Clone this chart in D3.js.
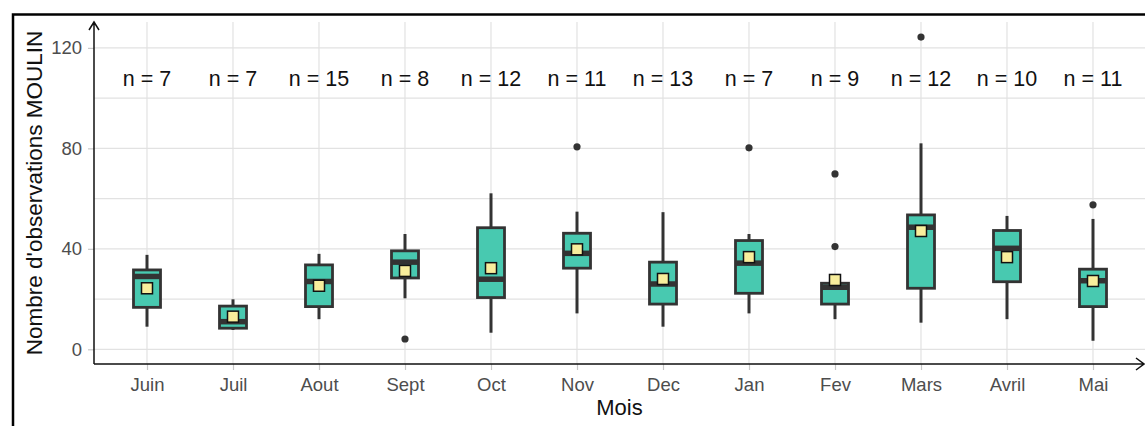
<!DOCTYPE html>
<html lang="fr">

<head>
    <meta charset="utf-8">
    <title>Nombre d'observations MOULIN par mois</title>
    <script type="text/javascript" src="https://cdn.jsdelivr.net/npm/d3@7"></script>
    <style type="text/css">
    body {
        margin: 0;
        background: white;
        font-family: "Liberation Sans", Arial, sans-serif;
    }

    .grid line {
        stroke: #e2e2e2;
        stroke-width: 1.2;
    }

    .tick text {
        fill: #4d4d4d;
        font-size: 18.5px;
        font-family: "Liberation Sans", Arial, sans-serif;
    }

    .tick line {
        stroke: #c8c8c8;
        stroke-width: 1.2;
    }
    </style>
</head>

<body>
    <script type="text/javascript">
    //data
    var months = ['Juin', 'Juil', 'Aout', 'Sept', 'Oct', 'Nov', 'Dec', 'Jan', 'Fev', 'Mars', 'Avril', 'Mai'];
    var nObs = [7, 7, 15, 8, 12, 11, 13, 7, 9, 12, 10, 11];
    var lowWhisker = [9, 7.7, 12, 20.3, 6.6, 14.3, 9, 14.3, 12, 10.6, 12, 3.4];
    var q1 = [16.7, 8.4, 17, 28.4, 20.6, 32.3, 18, 22.3, 18, 24.3, 26.9, 17];
    var medians = [29, 11, 27, 34.7, 27.9, 38.2, 26, 34.3, 24.7, 48.6, 40.2, 27.3];
    var q3 = [31.6, 17.2, 33.6, 39.2, 48.4, 46.2, 34.7, 43.3, 26.3, 53.5, 47.3, 31.9];
    var highWhisker = [37.6, 19.9, 38, 45.9, 62.1, 54.8, 54.6, 45.9, 26.3, 82, 53.1, 51.9];
    var means = [24.3, 13, 25.3, 31.2, 32.3, 39.8, 28, 36.7, 27.6, 47.1, 36.7, 27.2];
    var outliers = [[], [], [], [4.1], [], [80.6], [], [80.2], [69.8, 40.9], [124.3], [], [57.5]];
    var yTicks = [0, 40, 80, 120];
    var yMinor = [20, 60, 100];
    var nLabelY = 108;

    //Width and height
    var w = 1145;
    var h = 426;

    //panel edges
    var panelLeft = 94;
    var panelRight = 1145;
    var panelTop = 22;
    var panelBottom = 364;

    var boxHalf = 13.5;
    var boxFill = '#48c9b0';
    var dark = '#333333';

    var svg = d3.select('body')
        .append('svg')
        .attr('width', w)
        .attr('height', h);

    //scales
    var x = d3.scalePoint()
        .domain(months)
        .range([147, 1093]);

    var y = d3.scaleLinear()
        .domain([-5.85, 130.3])
        .range([panelBottom, panelTop]);

    //outer frame
    svg.append('rect')
        .attr('x', 13)
        .attr('y', 14.5)
        .attr('width', w)
        .attr('height', h)
        .attr('fill', 'none')
        .attr('stroke', 'black')
        .attr('stroke-width', 2.5);

    //grid
    var grid = svg.append('g').attr('class', 'grid');

    grid.selectAll('.hgrid')
        .data(yTicks.concat(yMinor))
        .enter()
        .append('line')
        .attr('x1', panelLeft)
        .attr('x2', panelRight)
        .attr('y1', function(d) { return y(d); })
        .attr('y2', function(d) { return y(d); });

    grid.selectAll('.vgrid')
        .data(months)
        .enter()
        .append('line')
        .attr('x1', function(d) { return x(d); })
        .attr('x2', function(d) { return x(d); })
        .attr('y1', panelTop)
        .attr('y2', panelBottom);

    //axes
    var xAxis = svg.append('g')
        .attr('transform', 'translate(0,' + panelBottom + ')')
        .call(d3.axisBottom(x).tickSize(6).tickPadding(8));
    xAxis.select('.domain').remove();

    var yAxis = svg.append('g')
        .attr('transform', 'translate(' + panelLeft + ',0)')
        .call(d3.axisLeft(y).tickValues(yTicks).tickSize(6).tickPadding(6));
    yAxis.select('.domain').remove();

    //axis lines with open arrow heads
    svg.append('path')
        .attr('d', 'M' + panelLeft + ',' + panelBottom + 'V' + panelTop +
            'M' + (panelLeft - 5) + ',' + (panelTop + 8) + 'L' + panelLeft + ',' + panelTop + 'L' + (panelLeft + 5) + ',' + (panelTop + 8))
        .attr('fill', 'none')
        .attr('stroke', '#111')
        .attr('stroke-width', 1.5);

    svg.append('path')
        .attr('d', 'M' + panelLeft + ',' + panelBottom + 'H' + (panelRight - 1) +
            'M' + (panelRight - 9) + ',' + (panelBottom - 6) + 'L' + (panelRight - 1) + ',' + panelBottom + 'L' + (panelRight - 9) + ',' + (panelBottom + 6))
        .attr('fill', 'none')
        .attr('stroke', '#111')
        .attr('stroke-width', 1.5);

    //boxes
    var boxes = svg.selectAll('.box')
        .data(months)
        .enter()
        .append('g')
        .attr('class', 'box');

    boxes.append('line')
        .attr('x1', function(d) { return x(d); })
        .attr('x2', function(d) { return x(d); })
        .attr('y1', function(d, i) { return y(highWhisker[i]); })
        .attr('y2', function(d, i) { return y(q3[i]); })
        .attr('stroke', dark)
        .attr('stroke-width', 3);

    boxes.append('line')
        .attr('x1', function(d) { return x(d); })
        .attr('x2', function(d) { return x(d); })
        .attr('y1', function(d, i) { return y(q1[i]); })
        .attr('y2', function(d, i) { return y(lowWhisker[i]); })
        .attr('stroke', dark)
        .attr('stroke-width', 3);

    boxes.append('rect')
        .attr('x', function(d) { return x(d) - boxHalf; })
        .attr('y', function(d, i) { return y(q3[i]); })
        .attr('width', boxHalf * 2)
        .attr('height', function(d, i) { return y(q1[i]) - y(q3[i]); })
        .attr('fill', boxFill)
        .attr('stroke', dark)
        .attr('stroke-width', 2.8);

    boxes.append('line')
        .attr('x1', function(d) { return x(d) - boxHalf; })
        .attr('x2', function(d) { return x(d) + boxHalf; })
        .attr('y1', function(d, i) { return y(medians[i]); })
        .attr('y2', function(d, i) { return y(medians[i]); })
        .attr('stroke', dark)
        .attr('stroke-width', 5.5);

    //outliers
    boxes.selectAll('circle')
        .data(function(d, i) {
            return outliers[i].map(function(v) { return { m: d, v: v }; });
        })
        .enter()
        .append('circle')
        .attr('cx', function(d) { return x(d.m); })
        .attr('cy', function(d) { return y(d.v); })
        .attr('r', 3.6)
        .attr('fill', dark);

    //means
    boxes.append('rect')
        .attr('x', function(d) { return x(d) - 5.5; })
        .attr('y', function(d, i) { return y(means[i]) - 5.5; })
        .attr('width', 11)
        .attr('height', 11)
        .attr('fill', '#f8ee9c')
        .attr('stroke', '#111')
        .attr('stroke-width', 1.5);

    //counts
    svg.selectAll('.nlab')
        .data(months)
        .enter()
        .append('text')
        .attr('class', 'nlab')
        .attr('x', function(d) { return x(d); })
        .attr('y', y(nLabelY))
        .attr('dy', '0.35em')
        .attr('text-anchor', 'middle')
        .attr('font-size', '21.5px')
        .attr('fill', '#111')
        .text(function(d, i) { return 'n = ' + nObs[i]; });

    //axis titles
    svg.append('text')
        .attr('x', (panelLeft + panelRight) / 2)
        .attr('y', 415)
        .attr('text-anchor', 'middle')
        .attr('font-size', '22px')
        .attr('fill', '#111')
        .text('Mois');

    svg.append('text')
        .attr('transform', 'translate(42,' + (panelTop + panelBottom) / 2 + ') rotate(-90)')
        .attr('text-anchor', 'middle')
        .attr('font-size', '22.5px')
        .attr('fill', '#111')
        .text("Nombre d'observations MOULIN");
    </script>
</body>

</html>
